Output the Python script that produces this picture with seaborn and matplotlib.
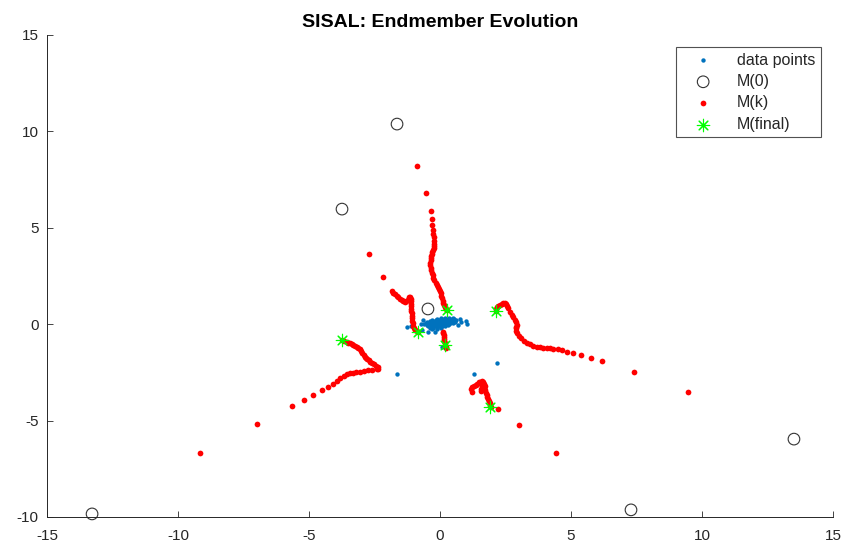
import numpy as np
import pandas as pd
import matplotlib
matplotlib.use("Agg")
import matplotlib.pyplot as plt
import seaborn as sns

# ---------------- data ----------------
# observed data points (blue)
data_x = [0.05, 0.20, 0.35, 0.50,
          -0.10, 0.05, 0.15, 0.25, 0.40, 0.55,
          -0.30, -0.15, 0.00, 0.10, 0.20, 0.30, 0.45, 0.62,
          -0.40, -0.25, -0.10, 0.00, 0.08, 0.18, 0.28, 0.38, 0.52,
          -0.50, -0.35, -0.20, -0.08, 0.02, 0.12, 0.22, 0.32, 0.45, 0.58,
          -0.55, -0.40, -0.28, -0.15, -0.05, 0.05, 0.15, 0.25, 0.38, 0.50,
          -0.60, -0.45, -0.30, -0.18, -0.08, 0.03, 0.12, 0.22, 0.35,
          -0.50, -0.35, -0.22, -0.10, 0.00, 0.10, 0.20, 0.30,
          -0.45, -0.30, -0.15, -0.05, 0.08, 0.18,
          -0.40, -0.25, -0.10, 0.05,
          -0.30, -0.12,
          -1.27, -1.11, -0.73, 0.99, 1.02, 0.80, 0.67, -0.70, -0.45, -0.19,
          0.06, 2.19, 1.31, -1.64, 0.75, -0.65]
data_y = [0.30, 0.30, 0.30, 0.30,
          0.25, 0.25, 0.25, 0.25, 0.25, 0.25,
          0.20, 0.20, 0.20, 0.20, 0.20, 0.20, 0.20, 0.20,
          0.15, 0.15, 0.15, 0.15, 0.15, 0.15, 0.15, 0.15, 0.15,
          0.10, 0.10, 0.10, 0.10, 0.10, 0.10, 0.10, 0.10, 0.10, 0.10,
          0.05, 0.05, 0.05, 0.05, 0.05, 0.05, 0.05, 0.05, 0.05, 0.05,
          0.00, 0.00, 0.00, 0.00, 0.00, 0.00, 0.00, 0.00, 0.00,
          -0.05, -0.05, -0.05, -0.05, -0.05, -0.05, -0.05, -0.05,
          -0.10, -0.10, -0.10, -0.10, -0.10, -0.10,
          -0.18, -0.18, -0.18, -0.18,
          -0.25, -0.25,
          -0.13, -0.09, 0.00, 0.17, -0.01, 0.10, -0.04, -0.30, -0.39, -0.39,
          -1.17, -2.03, -2.57, -2.57, 0.25, 0.22]

# initial endmembers M(0)
m0_x = [-13.28, -1.64, -3.74, -0.46, 7.29, 13.51]
m0_y = [-9.84, 10.38, 5.97, 0.79, -9.63, -5.96]

# final endmembers M(final)
mf_x = [-3.73, 0.26, -0.84, 0.19, 2.14, 1.91]
mf_y = [-0.82, 0.72, -0.40, -1.06, 0.69, -4.31]

# endmember trajectories M(k)
trajA_x = [-9.17, -7.00, -5.65, -5.20, -4.84, -4.49, -4.27, -4.08, -3.93,
           -3.81, -3.68, -3.56, -3.44, -3.32, -3.19, -3.05, -2.90, -2.75, -2.60,
           -2.42, -2.37, -2.38, -2.44, -2.52, -2.60, -2.67, -2.72, -2.77, -2.82,
           -2.86, -2.91, -2.96, -3.01, -3.05, -3.12, -3.18, -3.24, -3.31, -3.37,
           -3.44, -3.50, -3.56, -3.65, -3.73]
trajA_y = [-6.70, -5.19, -4.24, -3.93, -3.67, -3.41, -3.25, -3.09, -2.93,
           -2.81, -2.69, -2.58, -2.54, -2.52, -2.49, -2.46, -2.43, -2.40, -2.38,
           -2.34, -2.30, -2.24, -2.17, -2.09, -2.01, -1.95, -1.87, -1.81, -1.75,
           -1.69, -1.59, -1.49, -1.39, -1.30, -1.23, -1.18, -1.13, -1.08, -1.04,
           -0.99, -0.95, -0.91, -0.86, -0.82]

trajB_x = [-0.89, -0.55, -0.36, -0.32, -0.29, -0.27, -0.26, -0.24, -0.23, -0.22,
           -0.22, -0.23, -0.27, -0.29, -0.32, -0.34, -0.35, -0.36, -0.37, -0.38,
           -0.36, -0.34, -0.31, -0.28, -0.25, -0.22, -0.17, -0.13, -0.08, -0.03,
           0.00, 0.03, 0.05, 0.07, 0.10, 0.13, 0.16, 0.19, 0.22, 0.26]
trajB_y = [8.21, 6.82, 5.87, 5.47, 5.13, 4.89, 4.68, 4.51, 4.33, 4.16,
           4.06, 3.94, 3.85, 3.76, 3.64, 3.54, 3.43, 3.33, 3.20, 3.07,
           2.94, 2.81, 2.68, 2.55, 2.42, 2.29, 2.16, 2.03, 1.92, 1.81,
           1.71, 1.60, 1.47, 1.34, 1.21, 1.08, 0.98, 0.88, 0.80, 0.74]

trajC_x = [-2.72, -2.19,
           -1.84, -1.78, -1.72, -1.65, -1.59, -1.53, -1.46, -1.40, -1.34, -1.28,
           -1.23, -1.20, -1.17, -1.14, -1.12, -1.11, -1.10, -1.10, -1.09, -1.09,
           -1.08, -1.08, -1.07, -1.06, -1.04, -1.02, -0.99, -0.94, -0.89, -0.83]
trajC_y = [3.64, 2.45,
           1.74, 1.64, 1.55, 1.47, 1.40, 1.32, 1.26, 1.19, 1.14, 1.18,
           1.26, 1.34, 1.43, 1.39, 1.29, 1.18, 1.07, 0.94, 0.81, 0.69,
           0.56, 0.43, 0.30, 0.17, 0.04, -0.09, -0.21, -0.30, -0.35, -0.38]

trajD_x = [0.12, 0.13, 0.14, 0.15, 0.16, 0.17, 0.18, 0.19, 0.21, 0.22]
trajD_y = [-0.38, -0.48, -0.58, -0.68, -0.78, -0.88, -0.98, -1.08, -1.18, -1.24]

trajE_x = [9.45, 7.42, 6.17, 5.75, 5.39, 5.09, 4.85, 4.66, 4.49,
           4.32, 4.20, 4.07, 3.94, 3.82, 3.69, 3.56, 3.44, 3.31, 3.20, 3.08,
           3.00, 2.93, 2.90, 2.89, 2.91, 2.93, 2.89, 2.86, 2.80, 2.74, 2.67,
           2.61, 2.56, 2.52, 2.47, 2.42, 2.35, 2.29, 2.23, 2.16, 2.15, 2.14]
trajE_y = [-3.50, -2.48, -1.89, -1.75, -1.61, -1.49, -1.43, -1.35, -1.30,
           -1.27, -1.25, -1.23, -1.22, -1.20, -1.16, -1.12, -1.04, -0.96, -0.85, -0.73,
           -0.60, -0.47, -0.34, -0.21, -0.12, -0.04, 0.09, 0.22, 0.35, 0.48, 0.65,
           0.83, 0.93, 1.05, 1.08, 1.12, 1.06, 1.00, 0.95, 0.91, 0.80, 0.70]

trajF_x = [4.42, 3.03, 2.21,
           1.21, 1.20, 1.24, 1.30, 1.36, 1.41, 1.47, 1.53, 1.59, 1.64, 1.69,
           1.70, 1.67, 1.62, 1.57, 1.55, 1.60, 1.68, 1.72, 1.76, 1.78, 1.81,
           1.84, 1.87, 1.91, 1.92, 1.93]
trajF_y = [-6.67, -5.24, -4.38,
           -3.50, -3.36, -3.26, -3.18, -3.13, -3.08, -3.02, -2.98, -2.97, -3.02, -3.10,
           -3.23, -3.34, -3.41, -3.44, -3.34, -3.23, -3.31, -3.41, -3.57, -3.67, -3.79,
           -3.90, -4.00, -4.10, -4.22, -4.32]

legend_labels = ["data points", "M(0)", "M(k)", "M(final)"]
title_text = "SISAL: Endmember Evolution"
x_ticks = [-15, -10, -5, 0, 5, 10, 15]
y_ticks = [-10, -5, 0, 5, 10, 15]

# ---------------- frames ----------------
df_data = pd.DataFrame({"x": data_x, "y": data_y})
df_m0 = pd.DataFrame({"x": m0_x, "y": m0_y})
df_mk = pd.DataFrame({
    "x": trajA_x + trajB_x + trajC_x + trajD_x + trajE_x + trajF_x,
    "y": trajA_y + trajB_y + trajC_y + trajD_y + trajE_y + trajF_y,
})
df_mf = pd.DataFrame({"x": mf_x, "y": mf_y})

# ---------------- style ----------------
sns.set_style("white")
plt.rcParams["font.family"] = ["Liberation Sans", "DejaVu Sans"]
plt.rcParams["axes.unicode_minus"] = False
plt.rcParams["axes.edgecolor"] = "#262626"
plt.rcParams["xtick.color"] = "#262626"
plt.rcParams["ytick.color"] = "#262626"

fig = plt.figure(figsize=(8.49, 5.49), dpi=100)
ax = fig.add_axes([47 / 849, 32 / 549, 786 / 849, 482 / 549])

BLUE = "#0072BD"
RED = "#FF0000"
GREEN = "#00FF00"

sns.scatterplot(data=df_data, x="x", y="y", ax=ax, color=BLUE, s=10,
                linewidth=0, marker="o", label=legend_labels[0], clip_on=False)
sns.scatterplot(data=df_m0, x="x", y="y", ax=ax, color="#333333",
                facecolor="none", edgecolor="#333333", s=70, linewidth=0.8,
                marker="o", label=legend_labels[1], clip_on=False)
sns.scatterplot(data=df_mk, x="x", y="y", ax=ax, color=RED, s=17,
                linewidth=0, marker="o", label=legend_labels[2])
sns.scatterplot(data=df_mf, x="x", y="y", ax=ax, color=GREEN,
                edgecolor=GREEN, s=80, linewidth=0.8, marker=(8, 2, 0),
                label=legend_labels[3])

ax.set_xlim(-15, 15)
ax.set_ylim(-10, 15)
ax.set_xticks(x_ticks)
ax.set_yticks(y_ticks)
ax.set_xlabel("")
ax.set_ylabel("")
ax.tick_params(direction="in", length=4, width=0.6, labelsize=11, pad=6,
               bottom=True, left=True, top=False, right=False)
ax.tick_params(axis="x", pad=9)
for side in ["top", "right"]:
    ax.spines[side].set_visible(False)
for side in ["left", "bottom"]:
    ax.spines[side].set_linewidth(0.7)

ax.set_title(title_text, fontsize=14, fontweight="bold", color="black", pad=6)

leg = ax.legend(loc="upper left", bbox_to_anchor=(676 / 849, 1 - 47 / 549),
                bbox_transform=fig.transFigure, frameon=True, fancybox=False,
                fontsize=11.5, handlelength=2.7, handletextpad=0.75,
                labelspacing=0.40, borderpad=0.35, borderaxespad=0)
leg.get_frame().set_edgecolor("#262626")
leg.get_frame().set_linewidth(0.8)

fig.savefig("out.png", dpi=100)
